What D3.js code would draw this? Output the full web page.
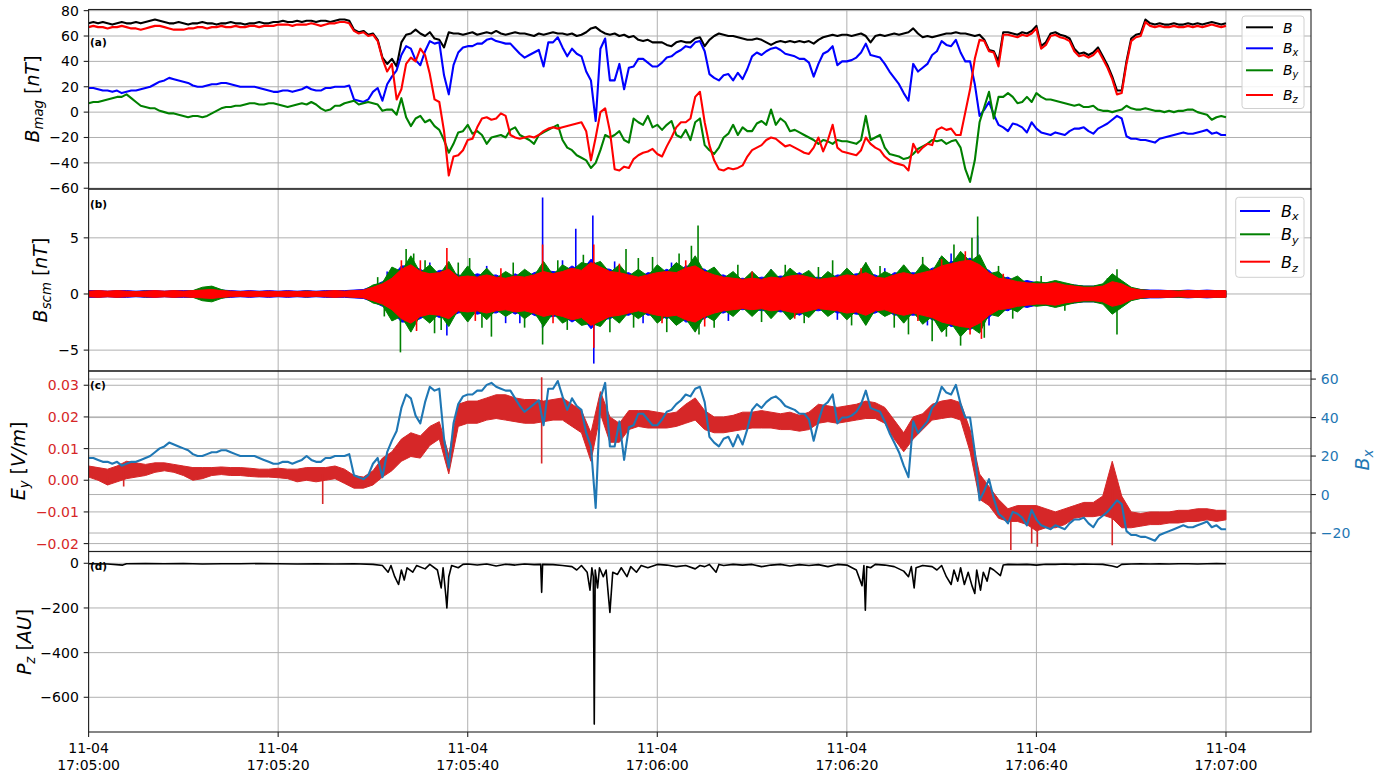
<!DOCTYPE html>
<html><head><meta charset="utf-8">
<script src="https://cdn.jsdelivr.net/npm/d3@7"></script>
<style>
body{margin:0;background:#fff;}
svg{font-family:"DejaVu Sans",sans-serif;}
</style></head><body>
<svg id="c" width="1390" height="777"></svg>
<script>
// ---------- sampling grids (seconds after 17:05:00) ----------
const tA = d3.range(0, 120.001, 0.5);   // panel (a) and Bx in (c)
const tS = d3.range(0, 120.001, 1);     // panel (b) envelopes and Ey band

// ---------- panel (a) : B_mag [nT] ----------
const bMag = [
70,71,70,71,70,69,70,71,70,70,71,70,71,72,73,72,71,70,70,71,
70,69,70,70,71,70,70,69,70,70,71,70,70,69,70,70,71,70,70,71,
71,72,71,71,72,71,72,72,71,72,72,71,72,73,73,72,65,63,64,61,
62,57,43,38,42,36,55,61,62,65,62,60,63,58,57,51,63,62,62,61,
62,63,61,62,63,62,64,62,61,62,63,62,62,61,60,62,61,62,63,62,
62,61,62,60,61,63,66,67,64,62,61,62,60,61,59,60,57,56,57,55,
55,55,53,52,55,56,55,55,58,59,52,57,60,62,61,60,60,59,58,57,
57,58,57,55,53,55,56,55,56,55,56,55,56,54,57,59,60,61,60,61,
61,60,61,62,60,55,60,61,60,61,62,61,62,63,66,62,59,60,59,60,
61,62,62,63,62,62,61,60,61,57,49,48,40,63,63,62,61,63,62,64,
68,52,55,62,63,61,60,58,50,46,47,45,47,51,44,37,28,17,17,40,
58,61,62,73,70,69,70,69,69,70,69,69,70,69,70,69,70,71,70,69,
70];
const bx = [
19,19,18,17,17,16,17,15,16,17,17,18,19,20,22,24,25,27,26,25,
24,23,21,20,20,21,22,22,23,23,22,21,20,20,20,20,19,18,17,16,
16,17,17,16,17,18,20,18,17,17,19,19,20,20,20,21,10,9,8,10,
16,19,9,22,28,33,45,52,50,41,37,48,56,54,55,29,14,37,47,51,
52,52,54,54,57,58,56,55,54,54,50,46,43,45,47,49,36,55,55,59,
51,44,50,46,44,32,25,-7,50,58,25,25,38,18,35,36,42,42,39,36,
36,39,43,44,47,49,52,51,55,56,48,30,27,25,29,30,25,31,26,34,
44,47,45,48,50,51,49,46,45,44,42,42,39,28,38,46,48,52,37,40,
40,41,43,47,54,45,44,43,38,32,27,22,15,9,38,32,35,38,45,48,
56,53,52,57,47,40,40,22,-3,2,8,-2,-10,-12,-15,-9,-10,-12,-16,-8,
-13,-16,-17,-18,-16,-17,-18,-15,-13,-13,-12,-15,-17,-13,-11,-9,-6,-3,-5,-19,
-21,-21,-22,-22,-23,-24,-21,-20,-19,-18,-17,-16,-17,-17,-16,-15,-14,-17,-16,-18,
-18];
const by = [
7,8,8,9,10,11,12,12,14,11,8,5,4,3,3,1,0,-1,-1,-2,
-3,-4,-3,-3,-4,-3,-1,1,3,4,4,5,5,6,7,7,6,6,7,7,
6,5,4,5,6,7,6,8,6,3,1,2,5,5,7,8,9,6,7,8,
7,6,1,2,2,-2,11,-4,-11,-5,-3,-8,-6,-11,-14,-22,-32,-25,-16,-15,
-10,-17,-15,-18,-25,-20,-19,-18,-20,-14,-12,-18,-20,-22,-25,-18,-16,-14,-12,-10,
-22,-28,-30,-34,-36,-38,-44,-40,-30,-18,-20,-18,-15,-22,-24,-5,-8,-10,-3,-12,
-10,-14,-10,-7,-18,-20,-14,-22,-8,-5,-26,-30,-33,-28,-20,-17,-10,-18,-12,-15,
-15,-9,-7,-10,2,-10,-5,-8,-15,-14,-16,-18,-20,-22,-25,-22,-23,-25,-22,-23,
-23,-24,-25,-22,-3,-22,-20,-18,-28,-33,-34,-35,-37,-36,-33,-29,-27,-25,-22,-23,
-22,-25,-23,-22,-28,-45,-55,-38,-8,4,16,-5,12,12,15,12,7,8,12,8,
15,12,10,10,9,8,7,6,5,6,4,4,5,2,1,1,0,1,2,5,
3,2,2,3,2,1,1,0,1,0,1,1,2,2,0,-1,-2,-6,-4,-3,
-4];
const bz = [
67,68,67,67,66,67,67,68,67,66,66,65,66,67,68,68,67,66,65,65,
65,66,66,67,67,66,67,67,68,67,67,68,67,67,68,68,67,68,68,68,
69,69,69,68,69,69,69,70,69,68,69,70,70,71,71,70,64,62,63,60,
61,56,42,32,38,10,18,38,43,40,50,45,30,10,8,-15,-50,-35,-34,-30,
-22,-21,-12,-5,-4,-6,-5,-1,-3,-18,-20,-21,-20,-19,-20,-18,-15,-13,-12,-13,
-12,-11,-10,-9,-8,-15,-38,-20,0,3,-15,-45,-46,-43,-44,-37,-34,-32,-31,-29,
-33,-35,-27,-20,-12,-8,-8,-5,12,16,-8,-26,-38,-45,-46,-44,-45,-44,-42,-35,
-30,-28,-26,-22,-20,-21,-24,-27,-26,-28,-30,-32,-33,-28,-20,-31,-22,-10,-28,-31,
-32,-33,-34,-30,-20,-25,-28,-30,-35,-38,-40,-41,-42,-46,-25,-32,-28,-25,-26,-14,
-12,-14,-13,-18,-18,0,18,42,57,56,48,47,36,61,61,60,59,61,60,62,
66,50,53,60,61,59,58,56,48,44,45,43,45,49,42,35,26,14,15,38,
56,59,60,71,68,67,68,67,67,68,67,67,68,67,68,67,68,69,68,67,
68];

// ---------- panel (b) : B_scm [nT], half-width of the oscillation per second ----------
const scmXAmp = [
0.3,0.3,0.25,0.3,0.3,0.25,0.3,0.3,0.25,0.3, 0.3,0.3,0.4,0.5,0.35,0.3,0.25,0.3,0.25,0.3,
0.25,0.3,0.25,0.3,0.25,0.3,0.3,0.3,0.35,0.4, 0.7,1.1,1.5,2.5,2.5,2.2,1.7,2.1,2.1,1.7,
1.5,1.8,1.6,1.7,1.3,1.8,1.4,1.9,2.1,2.0, 1.9,2.5,2.0,3.1,2.3,2.2,1.8,1.9,1.4,1.9,
1.8,2.2,1.8,2.5,2.4,2.2,1.6,1.7,1.3,1.4, 1.3,1.5,1.4,1.6,1.5,1.9,1.4,1.5,1.3,1.7,
1.6,1.8,1.8,1.7,1.3,1.9,1.8,1.9,1.8,2.3, 2.4,2.9,2.8,3.2,2.5,2.1,1.3,1.5,1.0,1.2,
1.0,1.0,1.1,0.9,0.8,0.7,0.7,0.8,1.3,1.0, 0.5,0.4,0.35,0.35,0.3,0.3,0.35,0.3,0.35,0.3,0.3];
const scmYAmp = [
0.2,0.25,0.2,0.25,0.2,0.2,0.25,0.2,0.2,0.25, 0.2,0.3,0.6,0.7,0.4,0.2,0.2,0.2,0.2,0.2,
0.2,0.2,0.2,0.25,0.2,0.2,0.25,0.2,0.3,0.3, 0.8,1.0,2.4,2.0,3.4,1.9,2.6,1.7,2.9,1.4,
2.5,1.4,2.3,1.4,2.0,1.5,2.2,1.6,2.9,1.7, 2.6,2.1,2.8,2.6,2.9,1.9,2.6,1.6,2.2,1.6,
2.6,1.9,2.8,2.2,3.4,1.9,2.4,1.4,2.0,1.2, 2.0,1.2,2.2,1.3,2.3,1.6,2.1,1.2,2.0,1.4,
2.3,1.5,2.8,1.4,2.0,1.6,2.6,1.6,2.7,2.0, 3.4,2.6,3.8,2.9,3.5,1.8,2.0,1.2,1.6,0.9,
1.1,1.0,1.2,1.0,0.8,0.7,0.7,0.9,1.8,1.2, 0.6,0.4,0.3,0.3,0.25,0.3,0.3,0.3,0.25,0.3,0.3];
const scmZAmp = [
0.25,0.3,0.25,0.3,0.25,0.2,0.25,0.3,0.25,0.3, 0.25,0.3,0.35,0.4,0.3,0.25,0.2,0.25,0.2,0.25,
0.2,0.25,0.2,0.25,0.2,0.25,0.3,0.25,0.3,0.35, 0.6,0.9,1.4,2.2,2.6,2.0,1.8,1.9,2.2,1.5,
1.6,1.5,1.7,1.5,1.4,1.6,1.5,1.7,2.0,1.8, 2.0,2.3,2.1,2.8,2.4,2.0,1.9,1.7,1.5,1.7,
1.9,2.0,1.9,2.3,2.5,2.0,1.7,1.5,1.4,1.3, 1.4,1.3,1.5,1.4,1.6,1.7,1.5,1.3,1.4,1.5,
1.7,1.6,1.9,1.5,1.4,1.7,1.9,1.7,1.9,2.1, 2.5,2.7,2.9,3.0,2.6,1.9,1.4,1.3,1.1,1.0,
0.9,0.9,1.0,0.8,0.7,0.6,0.6,0.7,1.1,0.9, 0.5,0.35,0.3,0.3,0.3,0.25,0.3,0.3,0.3,0.3,0.3];
// isolated peaks of the search-coil signal
const scmXSpikeT = [47.9,47.9,51.4,53.2,53.3,37.8,93.8,34.0,64.3,89.8,31.5,44.0,
  36.0,42.0,45.5,50.0,55.5,58.5,61.5,67.5,72.0,79.0,84.0,88.5,91.0,95.0];
const scmXSpikeV = [8.6,-3.0,5.8,7.0,-6.2,-3.7,5.2,3.0,-2.8,3.2,2.0,-2.6,
  2.8,2.5,-2.6,3.0,2.9,-2.6,2.8,-2.4,2.2,-2.3,2.3,-2.8,3.6,-2.8];
const scmYSpikeT = [32.9,33.5,34.3,36.5,40.2,42.5,47.9,56.7,63.6,64.3,64.4,58.0,78.5,82.0,92.0,93.2,93.8,91.3,108.5,108.5,86.5,89.0,
  30.5,31.2,35.5,37.2,39.0,41.5,44.8,46.0,49.5,50.5,52.2,55.0,57.5,59.5,61.0,62.3,66.0,68.5,71.0,73.5,75.5,77.0,80.5,83.5,85.0,88.0,90.5,94.5,96.0,97.5,100.5,103.0,107.5];
const scmYSpikeV = [-5.2,4.0,3.6,-3.5,3.2,-3.8,-4.5,4.0,4.3,6.1,-3.6,3.2,3.0,2.8,-4.6,5.0,6.9,4.4,2.2,-3.6,-3.6,-4.2,
  1.5,-2.0,3.0,-3.2,2.8,-3.0,2.8,-3.0,3.0,-3.2,3.5,-3.4,-3.0,3.3,-3.4,3.6,-3.0,2.6,-2.5,2.6,-2.6,2.4,-2.8,2.5,-3.0,3.3,-3.8,-3.9,2.5,-2.2,1.6,-1.5,1.4];
const scmZSpikeT = [37.8,47.9,33.0,34.6,53.3,53.3,94.2,92.5,
  35.0,40.8,43.5,49.0,56.0,60.5,63.0,65.0,70.0,74.5,81.5,87.5,90.0,93.0,96.5];
const scmZSpikeV = [4.1,4.4,3.0,-3.3,4.4,-4.8,-4.0,3.8,
  3.0,-2.4,2.3,-2.6,2.7,-2.6,3.0,-2.9,2.0,-2.2,2.3,-2.4,3.1,-3.6,1.8];

// ---------- panel (c) : E_y [V/m] upper / lower edge per second ----------
const eyHi = [
.0045,.0040,.0035,.0045,.0060,.0055,.0050,.0055,.0055,.0050,
.0045,.0040,.0040,.0040,.0042,.0040,.0040,.0038,.0035,.0035,
.0038,.0035,.0035,.0040,.0040,.0040,.0045,.0035,.0015,.0010,
.0030,.0070,.0090,.0130,.0150,.0140,.0170,.0185,.0080,.0240,
.0250,.0250,.0260,.0270,.0270,.0260,.0255,.0255,.0250,.0255,
.0260,.0240,.0220,.0150,.0280,.0200,.0180,.0220,.0220,.0220,
.0215,.0210,.0215,.0240,.0260,.0220,.0200,.0200,.0205,.0215,
.0215,.0220,.0215,.0210,.0215,.0205,.0215,.0240,.0235,.0230,
.0235,.0240,.0250,.0245,.0230,.0190,.0150,.0200,.0210,.0240,
.0250,.0255,.0245,.0160,.0020,-.0020,-.0060,-.0090,-.0080,-.0080,
-.0080,-.0090,-.0100,-.0090,-.0080,-.0070,-.0070,-.0050,.0060,-.0050,
-.0100,-.0105,-.0100,-.0100,-.0100,-.0095,-.0095,-.0090,-.0090,-.0095,-.0095];
const eyLo = [
.0010,.0000,-.0015,-.0005,.0005,.0010,.0015,.0025,.0030,.0025,
.0015,.0000,.0005,.0015,.0018,.0015,.0015,.0012,.0010,.0010,
.0008,.0005,-.0005,.0000,-.0005,.0000,.0005,-.0010,-.0025,-.0025,
-.0015,.0010,.0030,.0060,.0075,.0070,.0110,.0130,.0020,.0170,
.0180,.0180,.0190,.0195,.0190,.0185,.0180,.0180,.0185,.0190,
.0190,.0170,.0150,.0060,.0210,.0120,.0120,.0160,.0170,.0165,
.0165,.0165,.0170,.0180,.0190,.0160,.0150,.0150,.0155,.0160,
.0165,.0165,.0165,.0160,.0160,.0155,.0160,.0180,.0185,.0180,
.0185,.0190,.0195,.0195,.0180,.0130,.0090,.0130,.0160,.0190,
.0195,.0200,.0190,.0090,-.0060,-.0080,-.0120,-.0130,-.0130,-.0140,
-.0160,-.0150,-.0150,-.0140,-.0120,-.0115,-.0115,-.0110,-.0120,-.0150,
-.0150,-.0145,-.0140,-.0140,-.0135,-.0135,-.0130,-.0130,-.0125,-.0130,-.0125];
const eySpikeT = [2.0,3.7,24.7,47.8,47.8,97.3,99.5,100.1,108.0];
const eySpikeV = [-0.0015,-0.002,-0.0075,0.0325,0.0053,-0.022,-0.020,-0.021,-0.0205];

// ---------- panel (d) : P_z [AU] ----------
const pzT = [0,2,3.6,4,6,8,10,12,14,16,
 18,20,22,24,26,28,30,31,31.6,31.9,
 32.3,32.7,33.0,33.3,33.6,34.2,34.6,35.5,36.0,36.8,
 37.2,37.4,37.7,37.8,38.0,38.3,39.0,39.5,40,41,
 42,43,44,45,46,47,47.7,47.8,47.9,49,
 50,51,51.5,52,52.6,52.9,53.1,53.25,53.35,53.45,
 53.7,53.9,54.3,54.6,55.0,55.3,55.8,56.2,56.8,57.2,
 57.8,58.3,59,60,61,62,63,64,64.5,65,
 65.5,66.2,66.5,67,68,69,70,71,72,73,
 74,75,76,77,78,79,80,81,81.6,81.8,
 81.95,82.1,82.5,83,84,85,86,86.5,86.8,87.1,
 87.3,88,89,89.5,90,90.5,91,91.3,91.7,92,
 92.4,92.8,93.2,93.5,93.7,94.1,94.4,94.8,95.1,95.5,
 96.2,96.5,97,98,99,100,101,102,103,104,
 105,106,107,108,108.5,109,110,111,112,113,
 114,115,116,117,118,119,120];
const pzV = [-2,-3,-8,-2,-1,-2,-1,-3,-2,-2,
 -1,-2,-3,-2,-3,-2,-5,-10,-40,-10,
 -60,-95,-30,-75,-20,-40,-10,-25,-5,-30,
 -110,-20,-150,-200,-60,-10,-20,-5,-3,-8,
 -3,-12,-4,-8,-3,-6,-5,-130,-5,-6,
 -10,-15,-30,-10,-40,-120,-20,-60,-720,-30,
 -110,-20,-60,-30,-220,-40,-50,-20,-60,-15,
 -40,-10,-20,-5,-8,-15,-10,-25,-10,-15,
 -5,-40,-5,-10,-5,-8,-5,-15,-8,-5,
 -12,-6,-10,-6,-15,-5,-8,-30,-100,-10,
 -210,-15,-20,-5,-8,-15,-35,-60,-15,-110,
 -20,-10,-15,-30,-10,-60,-95,-30,-80,-20,
 -95,-40,-100,-135,-30,-120,-40,-80,-20,-30,
 -55,-8,-5,-6,-5,-8,-4,-5,-3,-5,
 -3,-4,-5,-12,-18,-5,-3,-2,-3,-2,
 -3,-2,-2,-3,-2,-1,-2];

// ---------- axis tick values ----------
const ticksA = [-60,-40,-20,0,20,40,60,80];
const ticksB = [-5,0,5];
const ticksC = [-0.02,-0.01,0,0.01,0.02,0.03];
const ticksCR = [-20,0,20,40,60];
const ticksD = [-600,-400,-200,0];

// ================= drawing =================
const svg = d3.select('#c');
const L = 88.6, R = 1311;
const T0 = Date.UTC(2019,10,4,17,5,0);
const x = d3.scaleUtc().domain([new Date(T0), new Date(T0+128970)]).range([L, R]);
const X = s => x(new Date(T0 + s*1000));
const xTicks = d3.utcSecond.every(20).range(new Date(T0), new Date(T0+128970));

const panels = {
  a:{top:9.5, bot:189, dom:[-60.6,80.9], ticks:ticksA, fmt:d3.format('d')},
  b:{top:189, bot:371, dom:[-6.86,9.35], ticks:ticksB, fmt:d3.format('d')},
  c:{top:371, bot:551.5, dom:[-0.0225,0.0345], ticks:ticksC, fmt:d3.format('.2f')},
  d:{top:551.5, bot:732, dom:[-755.4,52.8], ticks:ticksD, fmt:d3.format('d')}
};
for (const k in panels) {
  const p = panels[k];
  p.y = d3.scaleLinear().domain(p.dom).range([p.bot, p.top]);
}
const yCR = d3.scaleLinear().domain([-29.6,64.2]).range([panels.c.bot, panels.c.top]);

const defs = svg.append('defs');
const gGrid = svg.append('g');
const gData = svg.append('g');
const gAxes = svg.append('g');
const GRID = '#b0b0b0';

for (const k in panels) {
  const p = panels[k];
  defs.append('clipPath').attr('id','clip'+k).append('rect')
    .attr('x',L).attr('y',p.top).attr('width',R-L).attr('height',p.bot-p.top);
  xTicks.forEach(d => gGrid.append('line').attr('x1',x(d)).attr('x2',x(d))
    .attr('y1',p.top).attr('y2',p.bot).attr('stroke',GRID).attr('stroke-width',1));
  p.ticks.forEach(v => gGrid.append('line').attr('x1',L).attr('x2',R)
    .attr('y1',p.y(v)).attr('y2',p.y(v)).attr('stroke',GRID).attr('stroke-width',1));
}
ticksCR.forEach(v => gGrid.append('line').attr('x1',L).attr('x2',R)
  .attr('y1',yCR(v)).attr('y2',yCR(v)).attr('stroke',GRID).attr('stroke-width',1));

function series(ts, vs){ return ts.map((t,i)=>[t, vs[i]]).filter(d=>d[1]!=null); }
function drawLine(k, ts, vs, color, w, yScale){
  const ys = yScale || panels[k].y;
  gData.append('path').attr('clip-path','url(#clip'+k+')')
    .datum(series(ts, vs))
    .attr('d', d3.line().x(d=>X(d[0])).y(d=>ys(d[1])))
    .attr('fill','none').attr('stroke',color).attr('stroke-width',w)
    .attr('stroke-linejoin','round');
}
function drawBand(k, ts, lo, hi, color){
  const ys = panels[k].y;
  const data = ts.map((t,i)=>[t, lo[i], hi[i]]).filter(d=>d[1]!=null && d[2]!=null);
  gData.append('path').attr('clip-path','url(#clip'+k+')')
    .datum(data)
    .attr('d', d3.area().x(d=>X(d[0])).y0(d=>ys(d[1])).y1(d=>ys(d[2])))
    .attr('fill',color).attr('stroke',color).attr('stroke-width',1);
}
function drawSpikes(k, ts, vs, base, color, w){
  const ys = panels[k].y;
  ts.forEach((t,i)=>{
    gData.append('line').attr('clip-path','url(#clip'+k+')')
      .attr('x1',X(t)).attr('x2',X(t)).attr('y1',ys(base(t))).attr('y2',ys(vs[i]))
      .attr('stroke',color).attr('stroke-width',w);
  });
}

// (a)
drawLine('a', tA, bMag, '#000000', 2.1);
drawLine('a', tA, bx, '#0000ff', 2.1);
drawLine('a', tA, by, '#008000', 2.1);
drawLine('a', tA, bz, '#ff0000', 2.1);

// (b)
const neg = a => a.map(v=>-v);
drawBand('b', tS, neg(scmXAmp), scmXAmp, '#0000ff');
drawSpikes('b', scmXSpikeT, scmXSpikeV, ()=>0, '#0000ff', 1.6);
drawBand('b', tS, neg(scmYAmp), scmYAmp, '#008000');
drawSpikes('b', scmYSpikeT, scmYSpikeV, ()=>0, '#008000', 1.6);
drawBand('b', tS, neg(scmZAmp), scmZAmp, '#ff0000');
drawSpikes('b', scmZSpikeT, scmZSpikeV, ()=>0, '#ff0000', 1.6);

// (c)
drawBand('c', tS, eyLo, eyHi, '#d62728');
drawSpikes('c', eySpikeT, eySpikeV, t=>{const i=Math.round(t); return (eyHi[i]+eyLo[i])/2;}, '#d62728', 1.6);
drawLine('c', tA, bx, '#1f77b4', 2.1, yCR);

// (d)
drawLine('d', pzT, pzV, '#000000', 1.6);

// spines
for (const k in panels) {
  const p = panels[k];
  gAxes.append('rect').attr('x',L).attr('y',p.top).attr('width',R-L).attr('height',p.bot-p.top)
    .attr('fill','none').attr('stroke','#222').attr('stroke-width',1.1);
}

// y ticks
const TK = 4.9, FS = 14;
function yAxisLeft(p, color){
  p.ticks.forEach(v=>{
    const yy = p.y(v);
    gAxes.append('line').attr('x1',L-TK).attr('x2',L).attr('y1',yy).attr('y2',yy)
      .attr('stroke','#222').attr('stroke-width',1.1);
    gAxes.append('text').attr('x',L-TK-4.9).attr('y',yy+5).attr('text-anchor','end')
      .attr('font-size',FS).attr('fill',color||'#000').text(p.fmt(v));
  });
}
yAxisLeft(panels.a); yAxisLeft(panels.b); yAxisLeft(panels.c,'#d62728'); yAxisLeft(panels.d);
ticksCR.forEach(v=>{
  const yy = yCR(v);
  gAxes.append('line').attr('x1',R).attr('x2',R+TK).attr('y1',yy).attr('y2',yy)
    .attr('stroke','#222').attr('stroke-width',1.1);
  gAxes.append('text').attr('x',R+TK+4.9).attr('y',yy+5).attr('text-anchor','start')
    .attr('font-size',FS).attr('fill','#1f77b4').text(d3.format('d')(v));
});

// x ticks
const fmtD = d3.utcFormat('%m-%d'), fmtT = d3.utcFormat('%H:%M:%S');
xTicks.forEach(d=>{
  const xx = x(d);
  gAxes.append('line').attr('x1',xx).attr('x2',xx).attr('y1',732).attr('y2',732+TK)
    .attr('stroke','#222').attr('stroke-width',1.1);
  gAxes.append('text').attr('x',xx).attr('y',753).attr('text-anchor','middle')
    .attr('font-size',FS).text(fmtD(d));
  gAxes.append('text').attr('x',xx).attr('y',770).attr('text-anchor','middle')
    .attr('font-size',FS).text(fmtT(d));
});

// math-style labels
function mathText(g, parts, size, color){
  const t = g.append('text').attr('font-size',size).attr('fill',color||'#000');
  let shifted = false;
  parts.forEach(pt=>{
    const s = t.append('tspan').text(pt.t);
    if (pt.it) s.attr('font-style','italic');
    if (pt.sub) {
      s.attr('font-size', size*0.7);
      if (!shifted) { s.attr('dy', size*0.22); shifted = true; }
    } else if (shifted) { s.attr('dy', -size*0.22); shifted = false; }
  });
  return t;
}
function yLabel(xb, yc, parts, color){
  const g = gAxes.append('g').attr('transform',`translate(${xb},${yc}) rotate(-90)`);
  mathText(g, parts, 19, color).attr('text-anchor','middle');
}
yLabel(39, 99, [{t:'B',it:1},{t:'mag',it:1,sub:1},{t:' [',it:0},{t:'nT',it:1},{t:']',it:0}]);
yLabel(47, 280, [{t:'B',it:1},{t:'scm',it:1,sub:1},{t:' [',it:0},{t:'nT',it:1},{t:']',it:0}]);
yLabel(25, 461, [{t:'E',it:1},{t:'y',it:1,sub:1},{t:' [',it:0},{t:'V/m',it:1},{t:']',it:0}]);
yLabel(31, 642, [{t:'P',it:1},{t:'z',it:1,sub:1},{t:' [',it:0},{t:'AU',it:1},{t:']',it:0}]);
yLabel(1369, 460, [{t:'B',it:1},{t:'x',it:1,sub:1}], '#1f77b4');

// panel tags
[['(a)',45.5],['(b)',208],['(c)',388.5],['(d)',569.5]].forEach(([s,yy])=>{
  gAxes.append('text').attr('x',90).attr('y',yy).attr('font-size',10.5)
    .attr('font-weight','bold').text(s);
});

// legends
function legend(box, items, lx0, lx1, tx, fs){
  gAxes.append('rect').attr('x',box[0]).attr('y',box[1]).attr('width',box[2]).attr('height',box[3])
    .attr('rx',3).attr('fill','#fff').attr('fill-opacity',0.85).attr('stroke','#d0d0d0').attr('stroke-width',1);
  items.forEach(it=>{
    gAxes.append('line').attr('x1',lx0).attr('x2',lx1).attr('y1',it.ly).attr('y2',it.ly)
      .attr('stroke',it.c).attr('stroke-width',2);
    const g = gAxes.append('g').attr('transform',`translate(${tx},${it.by})`);
    mathText(g, it.parts, fs);
  });
}
legend([1242,16,62,92.5], [
  {c:'#000000', ly:27.3, by:32.5, parts:[{t:'B',it:1}]},
  {c:'#0000ff', ly:48.3, by:53.3, parts:[{t:'B',it:1},{t:'x',it:1,sub:1}]},
  {c:'#008000', ly:70.3, by:75.0, parts:[{t:'B',it:1},{t:'y',it:1,sub:1}]},
  {c:'#ff0000', ly:95.0, by:99.5, parts:[{t:'B',it:1},{t:'z',it:1,sub:1}]}
], 1246, 1273, 1283, 14);
legend([1235.7,197.3,68.3,80], [
  {c:'#0000ff', ly:211, by:216.7, parts:[{t:'B',it:1},{t:'x',it:1,sub:1}]},
  {c:'#008000', ly:234.3, by:240, parts:[{t:'B',it:1},{t:'y',it:1,sub:1}]},
  {c:'#ff0000', ly:261.7, by:268.3, parts:[{t:'B',it:1},{t:'z',it:1,sub:1}]}
], 1240, 1270, 1281, 16);
</script>
</body></html>
